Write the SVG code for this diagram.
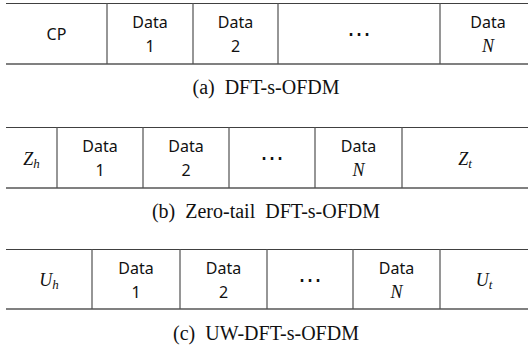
<svg xmlns="http://www.w3.org/2000/svg" width="528" height="349" viewBox="0 0 528 349">
<style>
.top{stroke:#404040;stroke-width:1}
.bot{stroke:#808080;stroke-width:2}
.v{stroke:#505050;stroke-width:1.2}
.t{font-family:"Noto Sans","Liberation Sans",sans-serif;font-size:16px;fill:#111;text-anchor:middle}
.m{font-family:"Liberation Serif","DejaVu Serif",serif;font-style:italic;font-size:18px;fill:#111;text-anchor:middle}
.s{font-size:13px}
.d{font-family:"DejaVu Sans",sans-serif;font-size:24px;fill:#111;text-anchor:middle}
.c{font-family:"Liberation Serif","Times New Roman",serif;font-size:20px;fill:#111;text-anchor:middle}
</style>
<rect width="528" height="349" fill="#fff"/>
<g id="connectors" fill="none">
  <line class="top" x1="6" y1="3.5" x2="528" y2="3.5"/>
  <line class="bot" x1="6" y1="64" x2="528" y2="64"/>
  <line class="v" x1="107" y1="3" x2="107" y2="64"/>
  <line class="v" x1="193" y1="3" x2="193" y2="64"/>
  <line class="v" x1="278" y1="3" x2="278" y2="64"/>
  <line class="v" x1="440" y1="3" x2="440" y2="64"/>

  <line class="top" x1="6" y1="127.5" x2="528" y2="127.5"/>
  <line class="bot" x1="6" y1="188" x2="528" y2="188"/>
  <line class="v" x1="57" y1="127" x2="57" y2="188"/>
  <line class="v" x1="143" y1="127" x2="143" y2="188"/>
  <line class="v" x1="229" y1="127" x2="229" y2="188"/>
  <line class="v" x1="315" y1="127" x2="315" y2="188"/>
  <line class="v" x1="402" y1="127" x2="402" y2="188"/>

  <line class="top" x1="6" y1="249.5" x2="528" y2="249.5"/>
  <line class="bot" x1="6" y1="309" x2="528" y2="309"/>
  <line class="v" x1="92" y1="249" x2="92" y2="309"/>
  <line class="v" x1="180" y1="249" x2="180" y2="309"/>
  <line class="v" x1="267" y1="249" x2="267" y2="309"/>
  <line class="v" x1="353" y1="249" x2="353" y2="309"/>
  <line class="v" x1="440" y1="249" x2="440" y2="309"/>
</g>

<g id="a-cp"><text class="t" x="56.5" y="40">CP</text></g>
<g id="a-data1"><text class="t" x="150" y="28">Data</text><text class="t" x="150" y="52">1</text></g>
<g id="a-data2"><text class="t" x="235.5" y="28">Data</text><text class="t" x="235.5" y="52">2</text></g>
<g id="a-dots"><text class="d" x="359" y="42">⋯</text></g>
<g id="a-dataN"><text class="t" x="488" y="28">Data</text><text class="m" x="488" y="52">N</text></g>
<g id="a-caption"><text class="c" x="266" y="94" xml:space="preserve">(a)  DFT-s-OFDM</text></g>

<g id="b-zh"><text class="m" x="31.5" y="165">Z<tspan class="s" dy="3">h</tspan></text></g>
<g id="b-data1"><text class="t" x="100" y="152">Data</text><text class="t" x="100" y="176">1</text></g>
<g id="b-data2"><text class="t" x="186" y="152">Data</text><text class="t" x="186" y="176">2</text></g>
<g id="b-dots"><text class="d" x="272" y="166">⋯</text></g>
<g id="b-dataN"><text class="t" x="358.5" y="152">Data</text><text class="m" x="358.5" y="176">N</text></g>
<g id="b-zt"><text class="m" x="465" y="165">Z<tspan class="s" dy="3">t</tspan></text></g>
<g id="b-caption"><text class="c" x="266" y="218" xml:space="preserve">(b)  Zero-tail  DFT-s-OFDM</text></g>

<g id="c-uh"><text class="m" x="49" y="286">U<tspan class="s" dy="3">h</tspan></text></g>
<g id="c-data1"><text class="t" x="136" y="274">Data</text><text class="t" x="136" y="298">1</text></g>
<g id="c-data2"><text class="t" x="223.5" y="274">Data</text><text class="t" x="223.5" y="298">2</text></g>
<g id="c-dots"><text class="d" x="310" y="288">⋯</text></g>
<g id="c-dataN"><text class="t" x="396.5" y="274">Data</text><text class="m" x="396.5" y="298">N</text></g>
<g id="c-ut"><text class="m" x="484" y="286">U<tspan class="s" dy="3">t</tspan></text></g>
<g id="c-caption"><text class="c" x="266" y="340" xml:space="preserve">(c)  UW-DFT-s-OFDM</text></g>
</svg>
